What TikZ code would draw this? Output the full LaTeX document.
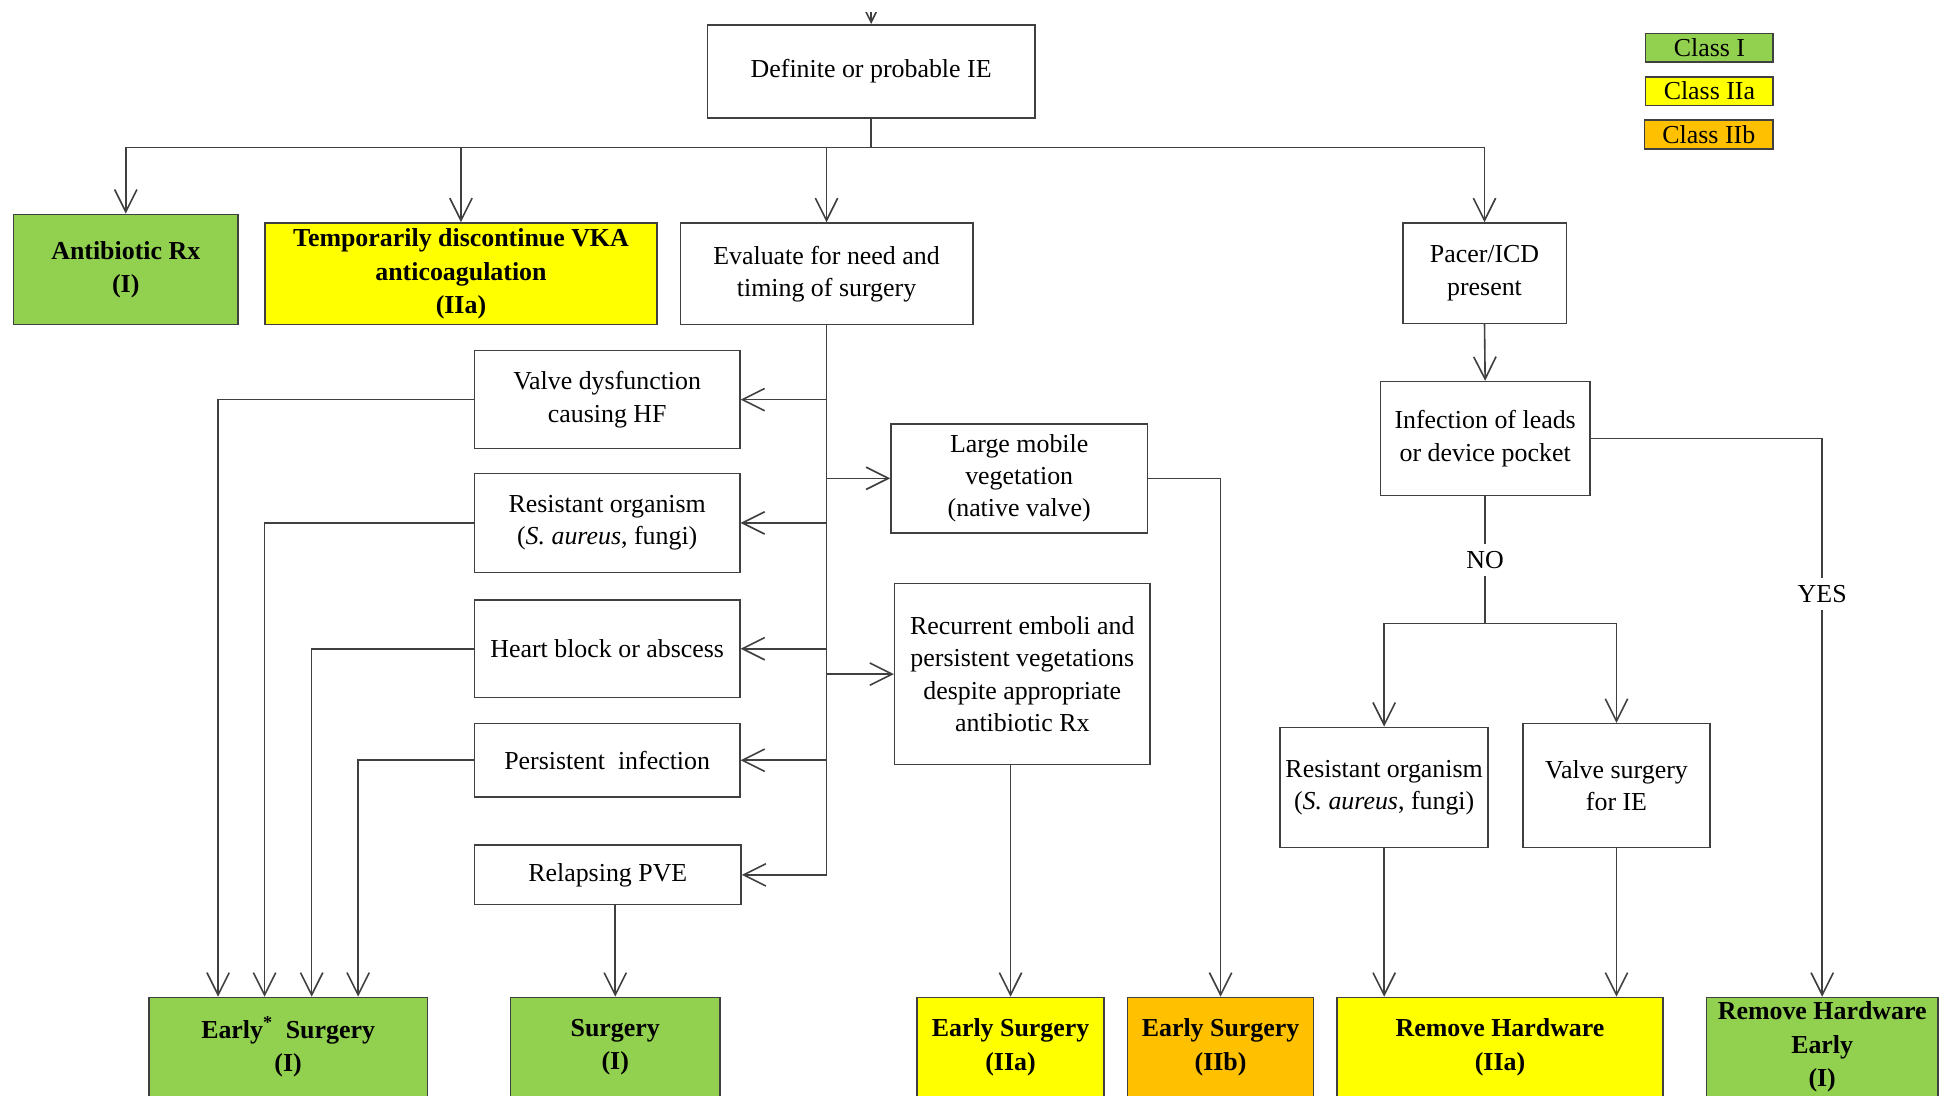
\documentclass[tikz,border=0pt]{standalone}
\usepackage{fontspec}
\setmainfont{Liberation Serif}
\usetikzlibrary{arrows.meta}
\definecolor{cgreen}{HTML}{92D050}
\definecolor{cyellow}{HTML}{FFFF00}
\definecolor{corange}{HTML}{FFC000}
\definecolor{lc}{HTML}{404040}
\begin{document}
\begin{tikzpicture}[x=1pt,y=-1pt,
  box/.style={draw=lc, line width=1.3pt, inner sep=0pt, align=center, text=black,
    font=\fontsize{20.9}{26}\selectfont},
  bbox/.style={box, font=\fontsize{20.9}{27}\selectfont\bfseries},
  ln/.style={draw=lc, line width=1.3pt},
  arr/.style={ln, -{Straight Barb[length=18pt,width=18pt,line width=1.3pt]}},
  lbl/.style={fill=white, inner sep=6pt, font=\fontsize{20.9}{26}\selectfont}]
\useasboundingbox (0,0) rectangle (1568,884);
\clip (0,0) rectangle (1568,884);
\fill[white] (0,0) rectangle (1568,884);

% top row
\node[box, minimum width=264pt, minimum height=75pt] (def) at (703,57.5) {Definite or probable IE};
\node[bbox, fill=cgreen, minimum width=181pt, minimum height=89pt] (abx) at (101.5,217.5) {Antibiotic Rx\\(I)};
\node[bbox, fill=cyellow, minimum width=316pt, minimum height=82pt] (tmp) at (372,221) {Temporarily discontinue VKA\\anticoagulation\\(IIa)};
\node[box, minimum width=236pt, minimum height=82pt] (eva) at (667,221) {Evaluate for need and\\timing of surgery};
\node[box, minimum width=132pt, minimum height=81pt] (pac) at (1198,220.5) {Pacer/ICD\\present};

% legend
\node[box, fill=cgreen, minimum width=103pt, minimum height=23pt] (lg1) at (1379.5,38.5) {Class I};
\node[box, fill=cyellow, minimum width=103pt, minimum height=23pt] (lg2) at (1379.5,73.5) {Class IIa};
\node[box, fill=corange, minimum width=104pt, minimum height=23pt] (lg3) at (1379,108.5) {Class IIb};

% middle left column
\node[box, minimum width=214pt, minimum height=79pt] (vd) at (490,322.5) {Valve dysfunction\\causing HF};
\node[box, minimum width=214pt, minimum height=80pt] (ro) at (490,422) {Resistant organism\\(\textit{S. aureus}, fungi)};
\node[box, minimum width=214pt, minimum height=79pt] (hb) at (490,523.5) {Heart block or abscess};
\node[box, minimum width=214pt, minimum height=59pt] (pi) at (490,613.5) {Persistent\ \ infection};
\node[box, minimum width=215pt, minimum height=48pt] (rp) at (490.5,706) {Relapsing PVE};

% middle right column
\node[box, minimum width=207pt, minimum height=88pt] (lm) at (822.5,386) {Large mobile\\vegetation\\(native valve)};
\node[box, minimum width=206pt, minimum height=146pt] (re) at (825,544) {Recurrent emboli and\\persistent vegetations\\despite appropriate\\antibiotic Rx};

% right part
\node[box, minimum width=169pt, minimum height=92pt] (inf) at (1198.5,354) {Infection of leads\\or device pocket};
\node[box, minimum width=168pt, minimum height=97pt] (ro2) at (1117,635.5) {Resistant organism\\(\textit{S. aureus}, fungi)};
\node[box, minimum width=151pt, minimum height=100pt] (vs) at (1304.5,634) {Valve surgery\\for IE};

% bottom row
\node[bbox, fill=cgreen, minimum width=225pt, minimum height=80pt] (es1) at (232.5,845) {Early\textsuperscript{*}\ \ Surgery\\(I)};
\node[bbox, fill=cgreen, minimum width=169pt, minimum height=80pt] (sg) at (496.5,845) {Surgery\\(I)};
\node[bbox, fill=cyellow, minimum width=151pt, minimum height=80pt] (es2) at (815.5,845) {Early Surgery\\(IIa)};
\node[bbox, fill=corange, minimum width=150pt, minimum height=80pt] (es3) at (985,845) {Early Surgery\\(IIb)};
\node[bbox, fill=cyellow, minimum width=263pt, minimum height=80pt] (rh) at (1210.5,845) {Remove Hardware\\(IIa)};
\node[bbox, fill=cgreen, minimum width=187pt, minimum height=80pt] (rhe) at (1470.5,845) {Remove Hardware\\Early\\(I)};

% connectors: top (only the end of the incoming arrow is visible)
\coordinate (top) at (703,-5);
\begin{scope}
\clip (0,10) rectangle (1568,884);
\draw[arr] (top) -- (def.north);
\end{scope}
\coordinate (bus) at (703,119);
\draw[ln] (def.south) -- (bus);
\draw[arr] (bus) -| (abx.north);
\draw[arr] (bus) -| (tmp.north);
\draw[arr] (bus) -| (eva.north);
\draw[arr] (bus) -| (pac.north);

% evaluate trunk
\draw[arr] (eva.south) |- (rp.east);
\draw[arr] (eva.south |- vd.east) -- (vd.east);
\draw[arr] (eva.south |- ro.east) -- (ro.east);
\draw[arr] (eva.south |- hb.east) -- (hb.east);
\draw[arr] (eva.south |- pi.east) -- (pi.east);
\draw[arr] (eva.south |- lm.west) -- (lm.west);
\draw[arr] (eva.south |- re.west) -- (re.west);

% to early surgery
\draw[arr] (vd.west) -| ([xshift=-56.5pt]es1.north);
\draw[arr] (ro.west) -| ([xshift=-19pt]es1.north);
\draw[arr] (hb.west) -| ([xshift=19pt]es1.north);
\draw[arr] (pi.west) -| ([xshift=56.5pt]es1.north);
\draw[arr] (rp.south -| sg.north) -- (sg.north);
\draw[arr] (re.south -| es2.north) -- (es2.north);
\draw[arr] (lm.east) -| (es3.north);

% pacer branch
\draw[arr] (pac.south) -- (inf.north);
\coordinate (nb) at (1198.5,503);
\draw[ln] (inf.south) -- node[lbl]{NO} (nb);
\draw[arr] (nb) -| (ro2.north);
\draw[arr] (nb) -| (vs.north);
\draw[arr] (ro2.south) -- (ro2.south |- rh.north);
\draw[arr] (vs.south) -- (vs.south |- rh.north);
\draw[arr] (inf.east) -| node[lbl, pos=0.639]{YES} (rhe.north);
\end{tikzpicture}
\end{document}
